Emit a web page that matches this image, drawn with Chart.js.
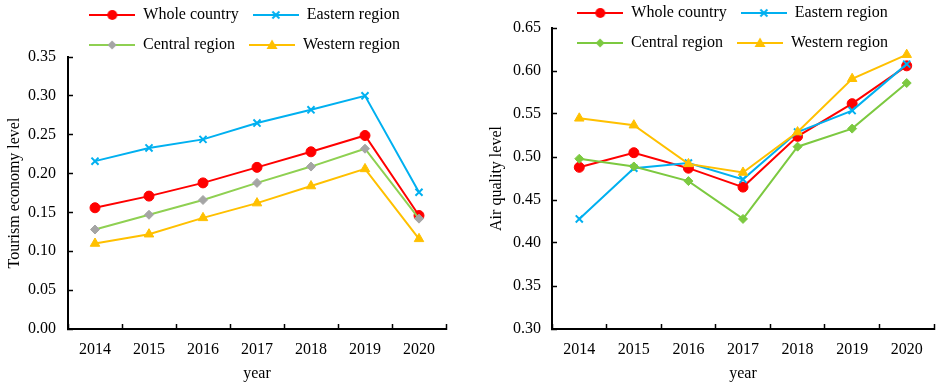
<!DOCTYPE html>
<html lang="en">
<head>
  <meta charset="UTF-8">
  <title>Tourism economy level and air quality level</title>
  <script src="https://cdn.jsdelivr.net/npm/chart.js"></script>
  <style>
    body { margin: 0; background: #fff; }
    .wrap { position: relative; width: 941px; height: 387px; }
    #tourismChart { position: absolute; left: 0; top: 0; }
    #airChart { position: absolute; left: 470px; top: 0; }
  </style>
</head>
<body>

<div class="wrap">
  <canvas id="tourismChart" width="470" height="387"></canvas>
  <canvas id="airChart" width="471" height="387"></canvas>
</div>

<script>
  const years = ['2014', '2015', '2016', '2017', '2018', '2019', '2020'];
  const seriesNames = ['Whole country', 'Eastern region', 'Central region', 'Western region'];

  // tourism economy level (left)
  const tourismWhole   = [0.156, 0.171, 0.188, 0.208, 0.228, 0.249, 0.146];
  const tourismEastern = [0.216, 0.233, 0.244, 0.265, 0.282, 0.300, 0.176];
  const tourismCentral = [0.128, 0.147, 0.166, 0.188, 0.209, 0.232, 0.142];
  const tourismWestern = [0.110, 0.122, 0.143, 0.162, 0.184, 0.206, 0.116];
  const tourismTicks = [0.00, 0.05, 0.10, 0.15, 0.20, 0.25, 0.30, 0.35];

  // air quality level (right)
  const airWhole   = [0.488, 0.505, 0.487, 0.465, 0.524, 0.562, 0.606];
  const airEastern = [0.428, 0.487, 0.493, 0.474, 0.529, 0.554, 0.608];
  const airCentral = [0.498, 0.489, 0.472, 0.428, 0.512, 0.533, 0.586];
  const airWestern = [0.545, 0.537, 0.492, 0.482, 0.529, 0.591, 0.619];
  const airTicks = [0.30, 0.35, 0.40, 0.45, 0.50, 0.55, 0.60, 0.65];

  Chart.defaults.font.family = '"Liberation Serif", "Times New Roman", serif';
  Chart.defaults.font.size = 16;
  Chart.defaults.color = '#000';

  // line + marker picture for the legend
  function makeIcon(lineColor, marker, markColor) {
    const c = document.createElement('canvas');
    c.width = 46; c.height = 14;
    const g = c.getContext('2d');
    g.strokeStyle = lineColor; g.lineWidth = 2;
    g.beginPath(); g.moveTo(0, 7); g.lineTo(46, 7); g.stroke();
    g.fillStyle = markColor; g.strokeStyle = markColor;
    g.beginPath();
    if (marker === 'circle') {
      g.arc(23, 7, 5, 0, 2 * Math.PI); g.fill();
    } else if (marker === 'crossRot') {
      g.moveTo(19.5, 3.5); g.lineTo(26.5, 10.5); g.moveTo(26.5, 3.5); g.lineTo(19.5, 10.5); g.stroke();
    } else if (marker === 'rectRot') {
      g.moveTo(23, 2.5); g.lineTo(27.5, 7); g.lineTo(23, 11.5); g.lineTo(18.5, 7); g.closePath(); g.fill();
    } else {
      g.moveTo(23, 1.5); g.lineTo(28.5, 11); g.lineTo(17.5, 11); g.closePath(); g.fill();
    }
    return c;
  }

  // the legend sits partly over the plot, so move it after layout
  const legendMove = {
    id: 'legendMove',
    afterLayout(chart, args, opts) {
      const lg = chart.legend;
      if (!lg) return;
      lg.left += opts.dx;
      lg.right += opts.dx;
      lg.top = opts.top;
      lg.bottom = opts.top + 70;
    }
  };

  function makeChart(id, values, styles, cfg) {
    const icons = styles.map(s => makeIcon(s.line, s.marker, s.mark));
    const datasets = values.map((vals, i) => ({
      label: seriesNames[i],
      data: vals,
      borderColor: styles[i].line,
      borderWidth: 2,
      pointStyle: styles[i].marker,
      pointRadius: styles[i].r,
      pointBackgroundColor: styles[i].mark,
      pointBorderColor: styles[i].mark,
      pointBorderWidth: styles[i].marker === 'crossRot' ? 2 : 1,
      tension: 0,
      order: 4 - i
    }));

    return new Chart(document.getElementById(id).getContext('2d'), {
      type: 'line',
      data: { labels: years, datasets: datasets },
      options: {
        responsive: false,
        animation: false,
        layout: { padding: { left: cfg.padL, right: cfg.padR, top: 0, bottom: 0 } },
        plugins: {
          legend: {
            position: 'top',
            maxHeight: cfg.legendH,
            labels: {
              usePointStyle: true,
              pointStyleWidth: 46,
              padding: 14,
              color: '#000',
              sort: (a, b) => a.datasetIndex - b.datasetIndex,
              generateLabels(chart) {
                const items = Chart.defaults.plugins.legend.labels.generateLabels(chart);
                items.forEach(it => { it.pointStyle = icons[it.datasetIndex]; });
                return items;
              }
            }
          },
          tooltip: { enabled: false },
          legendMove: { dx: cfg.dx, top: cfg.legendTop }
        },
        scales: {
          x: {
            offset: true,
            grid: { offset: true, drawOnChartArea: false, tickLength: -5, tickColor: '#000', tickWidth: 1.5 },
            border: { color: '#000', width: 2 },
            ticks: { padding: 16, maxRotation: 0 },
            title: { display: true, text: 'year', padding: { top: 0, bottom: 4 } },
            afterFit: s => { s.height = 58; }
          },
          y: {
            min: cfg.ticks[0],
            max: cfg.ticks[cfg.ticks.length - 1],
            afterBuildTicks: s => { s.ticks = cfg.ticks.map(v => ({ value: v })); },
            grid: { drawOnChartArea: false, tickLength: -5, tickColor: '#000', tickWidth: 1.5 },
            border: { color: '#000', width: 2 },
            ticks: { padding: cfg.tickPad, callback: v => Number(v).toFixed(2) },
            title: { display: true, text: cfg.yTitle, padding: 0 },
            afterFit: s => { s.width = cfg.yW; }
          }
        }
      },
      plugins: [legendMove]
    });
  }

  makeChart('tourismChart',
    [tourismWhole, tourismEastern, tourismCentral, tourismWestern],
    [
      { line: '#ff0000', mark: '#ff0000', marker: 'circle', r: 5 },
      { line: '#00b0f0', mark: '#00b0f0', marker: 'crossRot', r: 5 },
      { line: '#8fd052', mark: '#a5a5a5', marker: 'rectRot', r: 4.5 },
      { line: '#ffc000', mark: '#ffc000', marker: 'triangle', r: 5.5 }
    ],
    { padL: 5, padR: 24, yW: 63, legendH: 57, legendTop: -7, dx: 19, tickPad: 17,
      ticks: tourismTicks, yTitle: 'Tourism economy level' });

  makeChart('airChart',
    [airWhole, airEastern, airCentral, airWestern],
    [
      { line: '#ff0000', mark: '#ff0000', marker: 'circle', r: 5 },
      { line: '#00b0f0', mark: '#00b0f0', marker: 'crossRot', r: 5 },
      { line: '#7cc940', mark: '#7cc940', marker: 'rectRot', r: 4.5 },
      { line: '#ffc000', mark: '#ffc000', marker: 'triangle', r: 5.5 }
    ],
    { padL: 17, padR: 5, yW: 65, legendH: 28, legendTop: -9, dx: 21, tickPad: 16,
      ticks: airTicks, yTitle: 'Air quality level' });
</script>

</body>
</html>
